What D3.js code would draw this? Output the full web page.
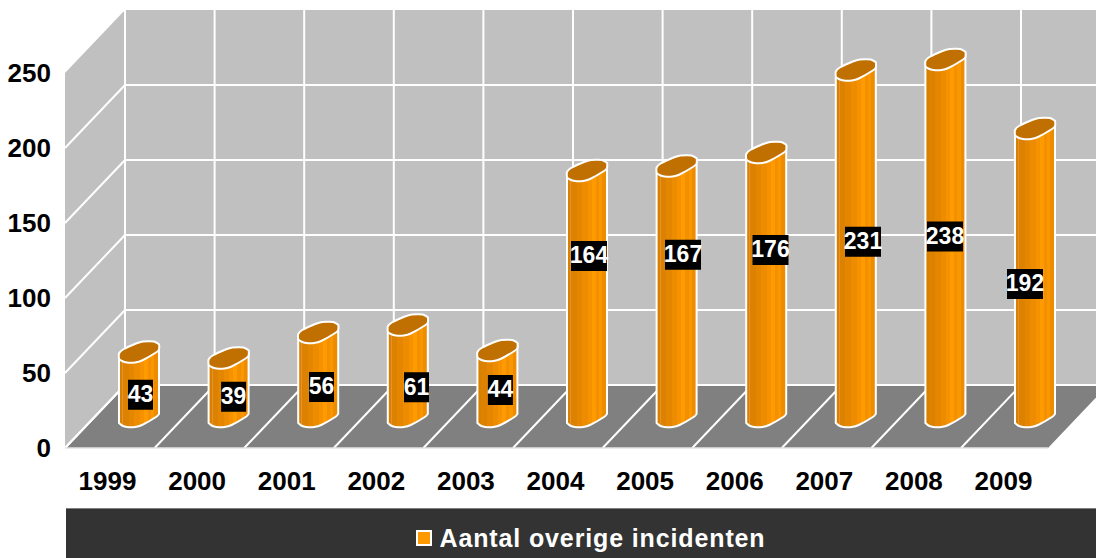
<!DOCTYPE html>
<html lang="en">

<head>
    <meta charset="UTF-8">
    <title>Aantal overige incidenten</title>
    <script src="https://d3js.org/d3.v7.min.js"></script>
    <style>
        body {
            margin: 0;
            background: #fff;
            overflow: hidden;
        }

        svg {
            display: block;
        }

        text {
            font-family: "Liberation Sans", Arial, sans-serif;
            font-weight: bold;
        }
    </style>
</head>

<body>
    <svg id="chart" width="1096" height="558"></svg>

    <script>
        // Data
        var years = ["1999", "2000", "2001", "2002", "2003", "2004", "2005", "2006", "2007", "2008", "2009"];
        var incidents = [43, 39, 56, 61, 44, 164, 167, 176, 231, 238, 192];
        var yTicks = [0, 50, 100, 150, 200, 250];
        var legendLabel = "Aantal overige incidenten";

        var svg = d3.select("#chart"),
            width = +svg.attr("width"),
            height = +svg.attr("height");

        // 3d box: the back wall is the front plane moved by depthX, depthY
        var depthX = 60, depthY = -63;
        var frontLeft = 65, step = 89.6;
        var frontRight = 1048;

        var yFront = d3.scaleLinear().domain([0, 250]).range([448, 73]);
        var yBack = d3.scaleLinear().domain([0, 250]).range([448 + depthY, 73 + depthY]);
        var yBar = d3.scaleLinear().domain([0, 250]).range([427, 52]);

        var xBar = d3.scalePoint().domain(years).range([139, 139 + step * 10]);
        var xLabel = d3.scalePoint().domain(years).range([107, 107 + step * 10]);

        var clip = svg.append("defs").append("clipPath").attr("id", "plot");
        clip.append("rect").attr("width", width).attr("height", height);

        var box = svg.append("g").attr("clip-path", "url(#plot)");

        // walls and floor
        var poly = d3.line();
        var backLeft = frontLeft + depthX;
        box.append("path")
            .attr("d", poly([[backLeft, yBack(250)], [width, yBack(250)], [width, yBack(0)], [backLeft, yBack(0)]]) + "Z")
            .attr("fill", "#c0c0c0");
        box.append("path")
            .attr("d", poly([[frontLeft, yFront(250)], [backLeft, yBack(250)], [backLeft, yBack(0)], [frontLeft, yFront(0)]]) + "Z")
            .attr("fill", "#c0c0c0");
        box.append("path")
            .attr("d", poly([[frontLeft, yFront(0)], [backLeft, yBack(0)], [frontRight + depthX, yBack(0)], [frontRight, yFront(0)]]) + "Z")
            .attr("fill", "#808080");

        // grid
        var grid = box.append("g").attr("stroke", "#fff").attr("stroke-width", 2).attr("fill", "none");
        yTicks.slice(0, 5).forEach(function (t) {
            grid.append("line")
                .attr("x1", frontLeft).attr("y1", yFront(t))
                .attr("x2", backLeft).attr("y2", yBack(t));
        });
        yTicks.forEach(function (t) {
            if (t === 250) return;
            grid.append("line")
                .attr("x1", backLeft).attr("y1", yBack(t))
                .attr("x2", width).attr("y2", yBack(t));
        });
        d3.range(0, 11).forEach(function (i) {
            grid.append("line")
                .attr("x1", backLeft + i * step).attr("y1", yBack(250))
                .attr("x2", backLeft + i * step).attr("y2", yBack(0));
            grid.append("line")
                .attr("x1", frontLeft + i * step).attr("y1", yFront(0))
                .attr("x2", backLeft + i * step).attr("y2", yBack(0));
        });
        box.append("line")
            .attr("x1", frontLeft).attr("y1", yFront(0))
            .attr("x2", frontRight).attr("y2", yFront(0))
            .attr("stroke", "#e4e4e4").attr("stroke-width", 1.5);

        // axes
        var yAxis = svg.append("g")
            .attr("transform", "translate(51,0)")
            .call(d3.axisLeft(yFront).tickValues(yTicks).tickSize(0).tickPadding(0));
        var xAxis = svg.append("g")
            .attr("transform", "translate(0,471.5)")
            .call(d3.axisBottom(xLabel).tickSize(0).tickPadding(0));
        [yAxis, xAxis].forEach(function (axis) {
            axis.select(".domain").remove();
            axis.selectAll("text")
                .attr("fill", "#000")
                .style("font-size", "26px")
                .style("font-family", "'Liberation Sans', Arial, sans-serif")
                .style("font-weight", "bold");
        });

        // cylinder stripes
        var stripes = [
            [0, "#d98000"], [0.08, "#e39236"], [0.1, "#dc8200"], [0.24, "#e48600"], [0.38, "#ee8c00"],
            [0.52, "#f69200"], [0.62, "#ff9a00"], [0.72, "#f39000"], [0.8, "#fa9600"], [0.88, "#ee8c00"], [1, "#e58700"]
        ];
        var grad = svg.select("defs").append("linearGradient").attr("id", "bar");
        stripes.forEach(function (s, i) {
            grad.append("stop").attr("offset", s[0]).attr("stop-color", s[1]);
            if (i < stripes.length - 1) {
                grad.append("stop").attr("offset", stripes[i + 1][0]).attr("stop-color", s[1]);
            }
        });

        // slanted oval section of a bar, around the lowest point of the section
        var oval = [[-20, -4], [-17, -1.5], [-12, 0], [-4, 0], [3, -2], [17, -10], [20, -13],
            [20, -18], [15, -21], [4, -21], [-3, -19], [-16, -13], [-20, -9]];
        var lower = oval.slice(0, 7);
        var ovalLine = d3.line().curve(d3.curveCardinalClosed.tension(0.5));
        var lowerLine = d3.line().curve(d3.curveCardinal.tension(0.5));

        var bars = svg.append("g").selectAll("g")
            .data(years)
            .join("g")
            .attr("transform", function (d) { return "translate(" + xBar(d) + ",0)"; });

        bars.append("path")
            .attr("d", function (d, i) {
                var top = yBar(incidents[i]);
                var edge = lowerLine(lower.map(function (p) { return [p[0], yBar(0) + p[1]]; }));
                return edge + "L20," + (top - 18) + "L-20," + (top - 4) + "Z";
            })
            .attr("fill", "url(#bar)")
            .attr("stroke", "#fff")
            .attr("stroke-width", 2)
            .attr("stroke-linejoin", "round");

        bars.append("path")
            .attr("d", function (d, i) {
                var top = yBar(incidents[i]);
                return ovalLine(oval.map(function (p) { return [p[0], top + p[1]]; }));
            })
            .attr("fill", "#c07000")
            .attr("stroke", "#fff")
            .attr("stroke-width", 2);

        // value labels sit off the bar middle, each by its own amount
        var labelDx = [1.5, 5, 3.3, 8.7, 3, 2, 6.4, 4.3, 7.2, -0.4, -10];
        var labelDy = [0, -1, 2, 6, -4, -48, -47, -45, -12, -12, 1];

        var labels = bars.append("g")
            .attr("transform", function (d, i) {
                var mid = (yBar(0) + yBar(incidents[i])) / 2;
                return "translate(" + labelDx[i] + "," + (mid + labelDy[i]) + ")";
            });
        labels.append("rect")
            .attr("x", function (d, i) { return incidents[i] < 100 ? -12.5 : -18; })
            .attr("width", function (d, i) { return incidents[i] < 100 ? 25 : 36; })
            .attr("y", -15)
            .attr("height", 30)
            .attr("fill", "#000");
        labels.append("text")
            .attr("text-anchor", "middle")
            .attr("y", -1)
            .attr("dy", "0.36em")
            .attr("fill", "#fff")
            .style("font-size", "23px")
            .text(function (d, i) { return incidents[i]; });

        // legend band
        svg.append("rect")
            .attr("x", 66).attr("y", 508)
            .attr("width", width - 66).attr("height", 50)
            .attr("fill", "#333333");
        svg.append("line")
            .attr("x1", 66).attr("y1", 508.5)
            .attr("x2", width).attr("y2", 508.5)
            .attr("stroke", "#808080");
        svg.append("rect")
            .attr("x", 417).attr("y", 531)
            .attr("width", 14).attr("height", 14)
            .attr("fill", "#ff9900")
            .attr("stroke", "#fff")
            .attr("stroke-width", 2);
        svg.append("text")
            .attr("x", 439.5).attr("y", 547)
            .attr("fill", "#fff")
            .style("font-size", "25px")
            .style("letter-spacing", "0.87px")
            .text(legendLabel);
    </script>
</body>

</html>
